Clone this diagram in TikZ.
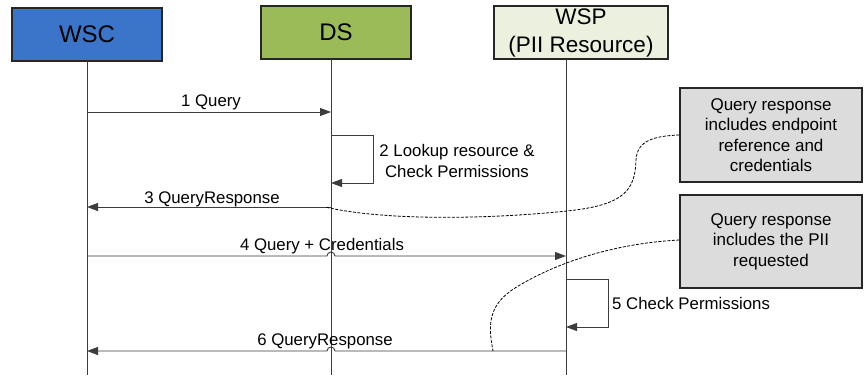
\documentclass[tikz,border=0pt]{standalone}
\usepackage{fontspec}
\setmainfont{Liberation Sans}
\usetikzlibrary{arrows.meta}
\definecolor{wscblue}{HTML}{3A75CA}
\definecolor{dsgreen}{HTML}{9BBB59}
\definecolor{wsppale}{HTML}{EBF1DE}
\definecolor{notegray}{HTML}{DCDCDC}
\definecolor{lineclr}{HTML}{3C3C3C}
\tikzset{
  actor/.style={draw=black!85, line width=1.6pt, minimum height=53pt, inner sep=0pt, align=center},
  note/.style={draw=black!85, line width=1.4pt, fill=notegray, minimum width=182pt, inner sep=0pt,
    align=center, font=\fontsize{17}{20.5}\selectfont},
  lifeline/.style={draw=lineclr, line width=0.9pt},
  msg/.style={draw=lineclr, line width=0.9pt, -{Triangle[length=11pt,width=8pt]}},
  msglabel/.style={font=\fontsize{16.8}{20}\selectfont, anchor=base, inner sep=0pt},
  annot/.style={draw=black, line width=0.8pt, dash pattern=on 3pt off 1.5pt},
}
\begin{document}
\begin{tikzpicture}[x=1pt,y=-1pt]
\useasboundingbox (0,0) rectangle (864,375);

% participants
\node[actor, fill=wscblue, minimum width=150pt, font=\fontsize{24}{28}\selectfont] (wsc) at (87,34.5) {WSC};
\node[actor, fill=dsgreen, minimum width=150pt, font=\fontsize{24}{28}\selectfont] (ds) at (336,32.5) {DS};
\node[actor, fill=wsppale, minimum width=174pt, font=\fontsize{22.5}{28}\selectfont] (wsp) at (581,32.5) {WSP\\(PII Resource)};

% lifelines
\coordinate (wscEnd) at (87,375);
\coordinate (dsEnd) at (331,375);
\coordinate (wspEnd) at (566,375);
\coordinate (wscTop) at (87,61);
\coordinate (dsTop) at (331,59);
\coordinate (wspTop) at (566,59);
\draw[lifeline] (wscTop) -- (wscEnd);
\draw[lifeline] (dsTop) -- (dsEnd);
\draw[lifeline] (wspTop) -- (wspEnd);

% message anchor points on the lifelines
\coordinate (m1a) at (87,112);   \coordinate (m1b) at (331,112);
\coordinate (m2a) at (331,135);  \coordinate (m2b) at (373,135);
\coordinate (m2c) at (373,183);  \coordinate (m2d) at (331,183);
\coordinate (m3a) at (331,207);  \coordinate (m3b) at (87,207);
\coordinate (m4a) at (87,256);   \coordinate (m4j) at (327,256);  \coordinate (m4b) at (566,256);
\coordinate (m5a) at (566,279);  \coordinate (m5b) at (608,279);
\coordinate (m5c) at (608,327);  \coordinate (m5d) at (566,327);
\coordinate (m6a) at (566,351);  \coordinate (m6j) at (335,351);  \coordinate (m6b) at (87,351);

% 1 Query
\draw[msg] (m1a) -- (m1b);
\node[msglabel] (l1) at (211,106) {1 Query};
% 2 self call on DS
\draw[msg] (m2a) -- (m2b) -- (m2c) -- (m2d);
\node[font=\fontsize{16.8}{21}\selectfont, align=center, inner sep=0pt] (l2) at (457,161) {2 Lookup resource \&\\Check Permissions};
% 3 QueryResponse
\draw[msg] (m3a) -- (m3b);
\node[msglabel] (l3) at (212,203) {3 QueryResponse};
% 4 Query + Credentials, hopping over the DS lifeline
\draw[msg] (m4a) -- (m4j) arc (180:360:4) -- (m4b);
\node[msglabel] (l4) at (322,250) {4 Query + Credentials};
% 5 self call on WSP
\draw[msg] (m5a) -- (m5b) -- (m5c) -- (m5d);
\node[msglabel, anchor=base west] (l5) at (612,309) {5 Check Permissions};
% 6 QueryResponse, hopping over the DS lifeline
\draw[msg] (m6a) -- (m6j) arc (0:-180:4) -- (m6b);
\node[msglabel] (l6) at (325,345) {6 QueryResponse};

% notes
\node[note, minimum height=94pt] (n1) at (771,135) {Query response\\includes endpoint\\reference and\\credentials};
\node[note, minimum height=93pt] (n2) at (771,241.5) {Query response\\includes the PII\\requested};

% note connectors
\coordinate (c1) at (325,207);
\coordinate (c2) at (493,351);
\draw[annot] (n1.west |- 0,135) .. controls (655,136) and (637,140) .. (636,160)
  .. controls (635,190) and (625,205) .. (567,211)
  .. controls (480,220) and (380,220) .. (c1);
\draw[annot] (n2.west |- 0,240) .. controls (620,243) and (560,260) .. (515,288)
  .. controls (488,305) and (488,325) .. (c2);
\end{tikzpicture}
\end{document}
